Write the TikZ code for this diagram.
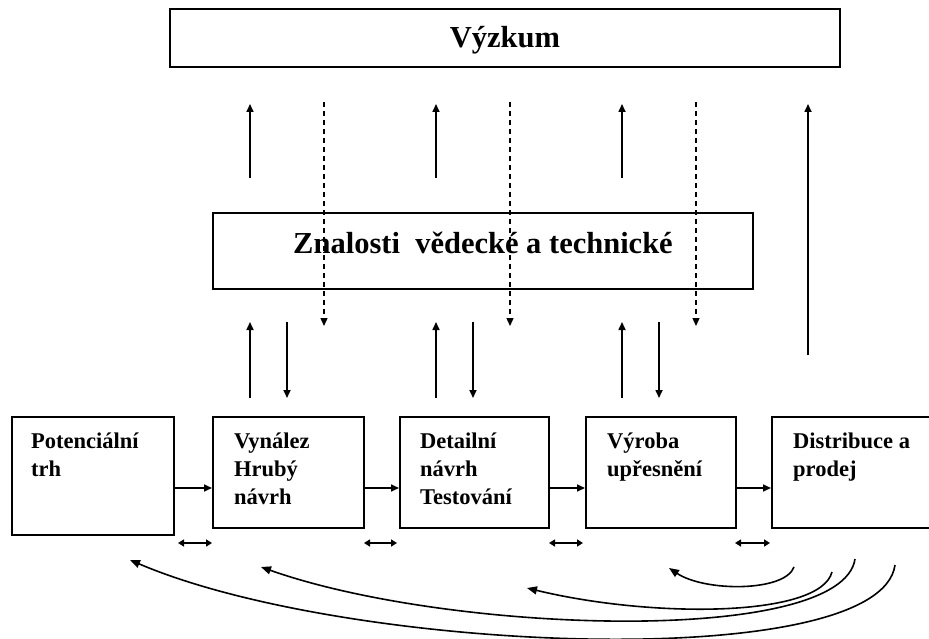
\documentclass[tikz,border=0pt]{standalone}
\usepackage{fontspec}
\setmainfont{Liberation Serif}
\usetikzlibrary{arrows.meta}
\begin{document}
\begin{tikzpicture}[x=1pt,y=-1pt,
  bigbox/.style={draw,line width=2.2pt,inner sep=0pt},
  bigtext/.style={inner sep=0pt,anchor=base,font=\bfseries\fontsize{30.5}{34}\selectfont},
  stagebox/.style={draw,line width=2pt,inner sep=0pt,anchor=north west},
  stagetext/.style={anchor=base west,inner sep=0pt,align=left,font=\bfseries\fontsize{22.5}{28}\selectfont},
  arr/.style={line width=1.6pt,-{Triangle[length=8pt,width=7pt]}},
  darr/.style={line width=1.6pt,{Triangle[length=6pt,width=7pt]}-{Triangle[length=6pt,width=7pt]}},
  dasharr/.style={line width=1.4pt,dash pattern=on 5pt off 4pt,-{Triangle[length=8pt,width=7pt]}},
  curvearr/.style={line width=1.6pt,-{Triangle[length=10pt,width=8pt]}}]
\useasboundingbox (0,0) rectangle (929,639);
% top boxes
\node[bigbox,minimum width=670pt,minimum height=58pt] (vyz) at (505,38) {};
\node[bigtext] (vyzt) at (505,48) {Výzkum};
\node[bigbox,minimum width=540pt,minimum height=76pt] (zna) at (483,251) {};
\node[bigtext] (znat) at (483,254) {Znalosti\ \ vědecké a technické};
% stage boxes
\node[stagebox,minimum width=162pt,minimum height=118pt] (b1) at (11,416) {};
\node[stagebox,minimum width=151pt,minimum height=111pt] (b2) at (212,416) {};
\node[stagebox,minimum width=149pt,minimum height=111pt] (b3) at (399,416) {};
\node[stagebox,minimum width=150pt,minimum height=111pt] (b4) at (585,416) {};
\node[stagebox,minimum width=170pt,minimum height=111pt] (b5) at (771,416) {};
% text nodes (base anchor = baseline of last line)
\node[stagetext] (t1) at (31,476) {Potenciální\\trh};
\node[stagetext] (t2) at (234,504) {Vynález\\Hrubý\\návrh};
\node[stagetext] (t3) at (420,504) {Detailní\\návrh\\Testování};
\node[stagetext] (t4) at (607,476) {Výroba\\upřesnění};
\node[stagetext] (t5) at (793,476) {Distribuce a\\prodej};
% horizontal arrows
\draw[arr] (b1.east |- 0,488) -- (b2.west |- 0,488);
\draw[arr] (b2.east |- 0,488) -- (b3.west |- 0,488);
\draw[arr] (b3.east |- 0,488) -- (b4.west |- 0,488);
\draw[arr] (b4.east |- 0,488) -- (b5.west |- 0,488);
% double arrows
\coordinate (d1a) at (178,543); \coordinate (d1b) at (212,543);
\coordinate (d2a) at (364,543); \coordinate (d2b) at (397,543);
\coordinate (d3a) at (549,543); \coordinate (d3b) at (583,543);
\coordinate (d4a) at (735,543); \coordinate (d4b) at (770,543);
\draw[darr] (d1a) -- (d1b);
\draw[darr] (d2a) -- (d2b);
\draw[darr] (d3a) -- (d3b);
\draw[darr] (d4a) -- (d4b);
% vertical arrows
\foreach \x in {250,436,622} {
  \coordinate (ua\x) at (\x,178); \coordinate (ub\x) at (\x,104);
  \draw[arr] (ua\x) -- (ub\x);
  \coordinate (la\x) at (\x,398); \coordinate (lb\x) at (\x,322);
  \draw[arr] (la\x) -- (lb\x);
}
\foreach \x in {287,473,659} {
  \coordinate (ma\x) at (\x,322); \coordinate (mb\x) at (\x,398);
  \draw[arr] (ma\x) -- (mb\x);
}
\foreach \x in {324,510,696} {
  \coordinate (da\x) at (\x,102); \coordinate (db\x) at (\x,326);
  \draw[dasharr] (da\x) -- (db\x);
}
\coordinate (ra) at (808,355); \coordinate (rb) at (808,104);
\draw[arr] (ra) -- (rb);
% curved feedback arrows
\coordinate (c1s) at (794,567); \coordinate (c1e) at (669,568);
\coordinate (c2s) at (832,572); \coordinate (c2e) at (527,588);
\coordinate (c3s) at (855,559); \coordinate (c3e) at (261,567);
\coordinate (c4s) at (895,565); \coordinate (c4e) at (130,560);
\draw[curvearr] (c1s) .. controls (785,592) and (705,592) .. (c1e);
\draw[curvearr] (c2s) .. controls (820,618) and (650,618) .. (c2e);
\draw[curvearr] (c3s) .. controls (842,646) and (450,634) .. (c3e);
\draw[curvearr] (c4s) .. controls (880,674) and (350,654) .. (c4e);
\end{tikzpicture}
\end{document}
